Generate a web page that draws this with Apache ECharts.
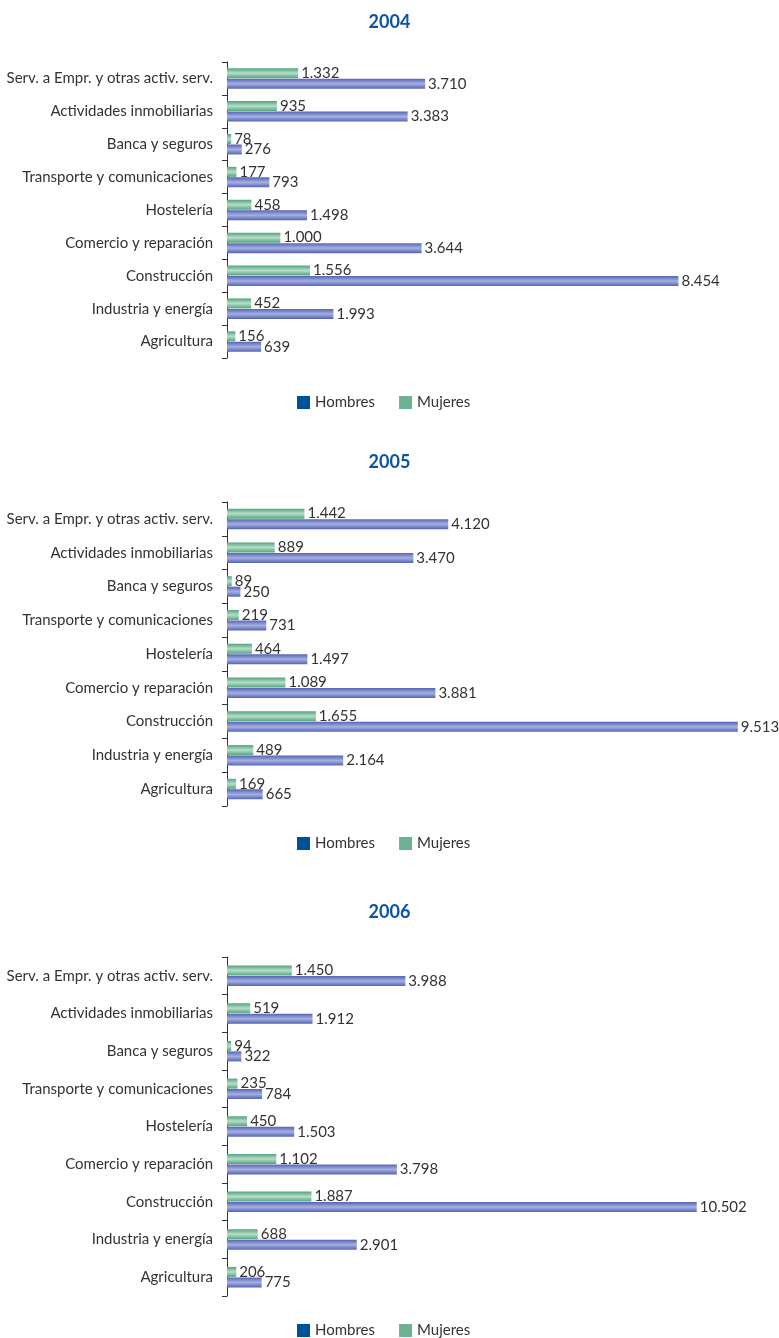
<!DOCTYPE html>
<html>
<head>
<meta charset="utf-8">
<script src="https://cdn.jsdelivr.net/npm/echarts@6/dist/echarts.min.js"></script>
<style>
    body { margin: 0; background: #fff; }
    #chart { width: 779px; height: 1338px; }
</style>
</head>
<body>
<div id="chart"></div>
<script>
var categories = [
    'Serv. a Empr. y otras activ. serv.',
    'Actividades inmobiliarias',
    'Banca y seguros',
    'Transporte y comunicaciones',
    'Hostelería',
    'Comercio y reparación',
    'Construcción',
    'Industria y energía',
    'Agricultura'
];
var years = ['2004', '2005', '2006'];

var hombres2004 = [3710, 3383, 276, 793, 1498, 3644, 8454, 1993, 639];
var mujeres2004 = [1332, 935, 78, 177, 458, 1000, 1556, 452, 156];
var hombres2005 = [4120, 3470, 250, 731, 1497, 3881, 9513, 2164, 665];
var mujeres2005 = [1442, 889, 89, 219, 464, 1089, 1655, 489, 169];
var hombres2006 = [3988, 1912, 322, 784, 1503, 3798, 10502, 2901, 775];
var mujeres2006 = [1450, 519, 94, 235, 450, 1102, 1887, 688, 206];

var hombres = [hombres2004, hombres2005, hombres2006];
var mujeres = [mujeres2004, mujeres2005, mujeres2006];

// layout of each block: grid top, grid height, grid width, axis max, title top, legend top
var blocks = [
    { top: 62, height: 296, width: 534, max: 10000, title: 8, legend: 390 },
    { top: 502, height: 304, width: 537, max: 10000, title: 448, legend: 831 },
    { top: 957, height: 339, width: 492, max: 11000, title: 898, legend: 1318 }
];

var font = 'Lato, "Open Sans", sans-serif';

function miles(v) {
    return String(v).replace(/\B(?=(\d{3})+(?!\d))/g, '.');
}

function barColor(edge, mid) {
    return new echarts.graphic.LinearGradient(0, 0, 0, 1, [
        { offset: 0, color: edge },
        { offset: 0.5, color: mid },
        { offset: 1, color: edge }
    ]);
}

var option = {
    animation: false,
    backgroundColor: '#fff',
    textStyle: { fontFamily: font },
    title: [],
    legend: [],
    grid: [],
    xAxis: [],
    yAxis: [],
    series: []
};

for (var i = 0; i < years.length; i++) {
    var b = blocks[i];
    option.title.push({
        text: years[i],
        left: 'center',
        top: b.title,
        textStyle: { fontFamily: font, fontSize: 18, fontWeight: 'bold', color: '#0b53a3' }
    });
    option.legend.push({
        left: 292,
        top: b.legend,
        itemWidth: 13,
        itemHeight: 13,
        itemGap: 24,
        icon: 'rect',
        textStyle: { fontFamily: font, fontSize: 15, color: '#333' },
        data: [
            { name: 'Hombres', itemStyle: { color: '#0050a0' } },
            { name: 'Mujeres', itemStyle: { color: '#6db393' } }
        ],
        selectedMode: false
    });
    option.grid.push({ left: 227, top: b.top, height: b.height, width: b.width });
    option.xAxis.push({ type: 'value', gridIndex: i, min: 0, max: b.max, show: false });
    option.yAxis.push({
        type: 'category',
        gridIndex: i,
        inverse: true,
        data: categories,
        axisLine: { show: true, lineStyle: { color: '#333', width: 1 } },
        axisTick: { show: true, length: 5, lineStyle: { color: '#333', width: 1 } },
        axisLabel: { margin: 14, fontFamily: font, fontSize: 15, color: '#333' }
    });
    option.series.push({
        name: 'Mujeres',
        type: 'bar',
        xAxisIndex: i,
        yAxisIndex: i,
        barWidth: 10,
        barGap: '5%',
        data: mujeres[i],
        itemStyle: { color: barColor('#4fa57c', '#b8ddc8') },
        label: {
            show: true, position: 'right', distance: 3,
            fontFamily: font, fontSize: 15, color: '#333',
            formatter: function (p) { return miles(p.value); }
        }
    });
    option.series.push({
        name: 'Hombres',
        type: 'bar',
        xAxisIndex: i,
        yAxisIndex: i,
        barWidth: 10,
        barGap: '5%',
        data: hombres[i],
        itemStyle: { color: barColor('#5564b3', '#a6b0e2') },
        label: {
            show: true, position: 'right', distance: 3,
            fontFamily: font, fontSize: 15, color: '#333',
            formatter: function (p) { return miles(p.value); }
        }
    });
}

var myChart = echarts.init(document.getElementById('chart'));
myChart.setOption(option);
</script>
</body>
</html>
